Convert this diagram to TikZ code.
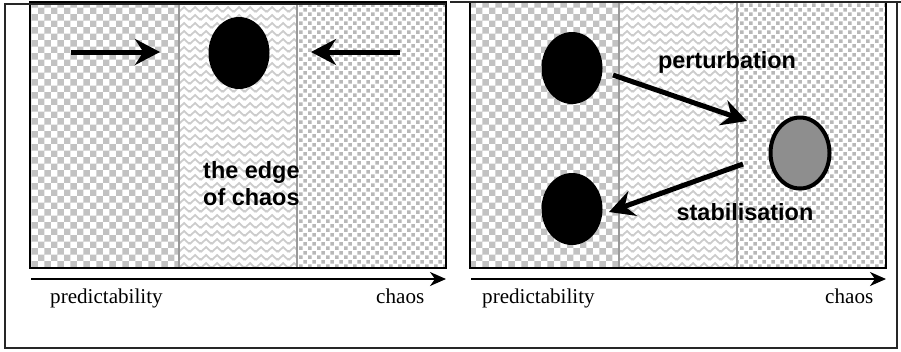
\documentclass[tikz,border=0pt]{standalone}
\usepackage{fontspec}
\setmainfont{Liberation Serif}
\setsansfont{Liberation Sans}
\usepackage{tikz}
\usetikzlibrary{shapes.geometric, arrows.meta, patterns.meta}
\definecolor{checkgray}{HTML}{C2C2C2}
\definecolor{weavegray}{HTML}{CCCCCC}
\definecolor{dotgray}{HTML}{B8B8B8}
\definecolor{ballgray}{HTML}{8E8E8E}
\definecolor{edgegray}{HTML}{9A9A9A}

\tikzdeclarepattern{name=checks, type=colored,
  bottom left={(0pt,0pt)}, top right={(11pt,11pt)}, tile size={(11pt,11pt)},
  code={\fill[checkgray] (0pt,0pt) rectangle (5.5pt,5.5pt) (5.5pt,5.5pt) rectangle (11pt,11pt);}}
\tikzdeclarepattern{name=weave, type=colored,
  bottom left={(0pt,0pt)}, top right={(9pt,7pt)}, tile size={(9pt,7pt)},
  code={\draw[weavegray, line width=1.6pt] (-0.3pt,0.8pt) -- (4.5pt,5.6pt) -- (9.3pt,0.8pt);}}
\tikzdeclarepattern{name=specks, type=colored,
  bottom left={(0pt,0pt)}, top right={(8pt,8pt)}, tile size={(8pt,8pt)},
  code={\fill[dotgray] (0pt,0pt) rectangle (3.2pt,3.2pt) (4pt,4pt) rectangle (7.2pt,7.2pt);}}

\begin{document}
\begin{tikzpicture}[x=0.03cm, y=-0.03cm,
    panel/.style={draw=black, line width=1.7pt},
    divider/.style={draw=edgegray, line width=1.2pt},
    outerframe/.style={draw=black!85, line width=1.2pt},
    blob/.style={ellipse, fill=black, minimum width=1.83cm, minimum height=2.16cm, inner sep=0pt},
    greyblob/.style={ellipse, draw=black, line width=0.12cm, fill=ballgray,
      minimum width=1.77cm, minimum height=2.13cm, inner sep=0pt},
    push/.style={line width=0.15cm, -{Stealth[length=0.75cm, width=0.78cm, inset=0.25cm]}},
    scalearrow/.style={line width=0.06cm, -{Stealth[length=0.48cm, width=0.42cm, inset=0.15cm]}},
    axislabel/.style={font=\fontsize{18}{20}\selectfont, inner sep=0pt, anchor=base west},
    bigword/.style={font=\sffamily\bfseries\fontsize{20}{23}\selectfont, inner sep=0pt}]
  \useasboundingbox (0,0) rectangle (901,351);
  \fill[white] (0,0) rectangle (901,351);

  % two panels: three zones each, then the scale below
  \foreach \dx in {0,440} {
    \fill[pattern=checks] (30+\dx,2) rectangle (179+\dx,268);
    \fill[pattern=weave] (179+\dx,2) rectangle (297+\dx,268);
    \fill[pattern=specks] (297+\dx,2) rectangle (446+\dx,268);
    \draw[divider] (179+\dx,2) -- (179+\dx,268) (297+\dx,2) -- (297+\dx,268);
    \draw[panel] (30+\dx,2) rectangle (446+\dx,268);
    \coordinate (low\dx) at (31+\dx,279);
    \coordinate (high\dx) at (446+\dx,279);
    \draw[scalearrow] (low\dx) -- (high\dx);
  }
  \draw[outerframe] (446,4) -- (5,4) -- (5,348) -- (450,348);
  \draw[outerframe] (450,2) -- (901,2) (897,2) -- (897,348) -- (450,348);

  % left panel
  \node[blob] (poised) at (239,53) {};
  \coordinate (orderside) at (71,52);
  \coordinate (orderstop) at (160,52);
  \coordinate (chaosside) at (400,52);
  \coordinate (chaosstop) at (311,52);
  \draw[push] (orderside) -- (orderstop);
  \draw[push] (chaosside) -- (chaosstop);
  \node[bigword, anchor=north west, align=left] (edgetext) at (203,161) {the edge\\of chaos};
  \node[axislabel] (predleft) at (50,303) {predictability};
  \node[axislabel] (chaosleft) at (376,303) {chaos};

  % right panel
  \node[blob] (before) at (572,68) {};
  \node[blob] (after) at (572,209) {};
  \node[greyblob] (kicked) at (800,153) {};
  \coordinate (pertstart) at (613,75);
  \coordinate (pertend) at (747,121);
  \coordinate (stabstart) at (743,164);
  \coordinate (stabend) at (609,212);
  \draw[push] (pertstart) -- (pertend);
  \draw[push] (stabstart) -- (stabend);
  \node[bigword] (pertlabel) at (727,62) {perturbation};
  \node[bigword] (stablabel) at (745,212) {stabilisation};
  \node[axislabel] (predright) at (482,303) {predictability};
  \node[axislabel] (chaosright) at (825,303) {chaos};
\end{tikzpicture}
\end{document}
